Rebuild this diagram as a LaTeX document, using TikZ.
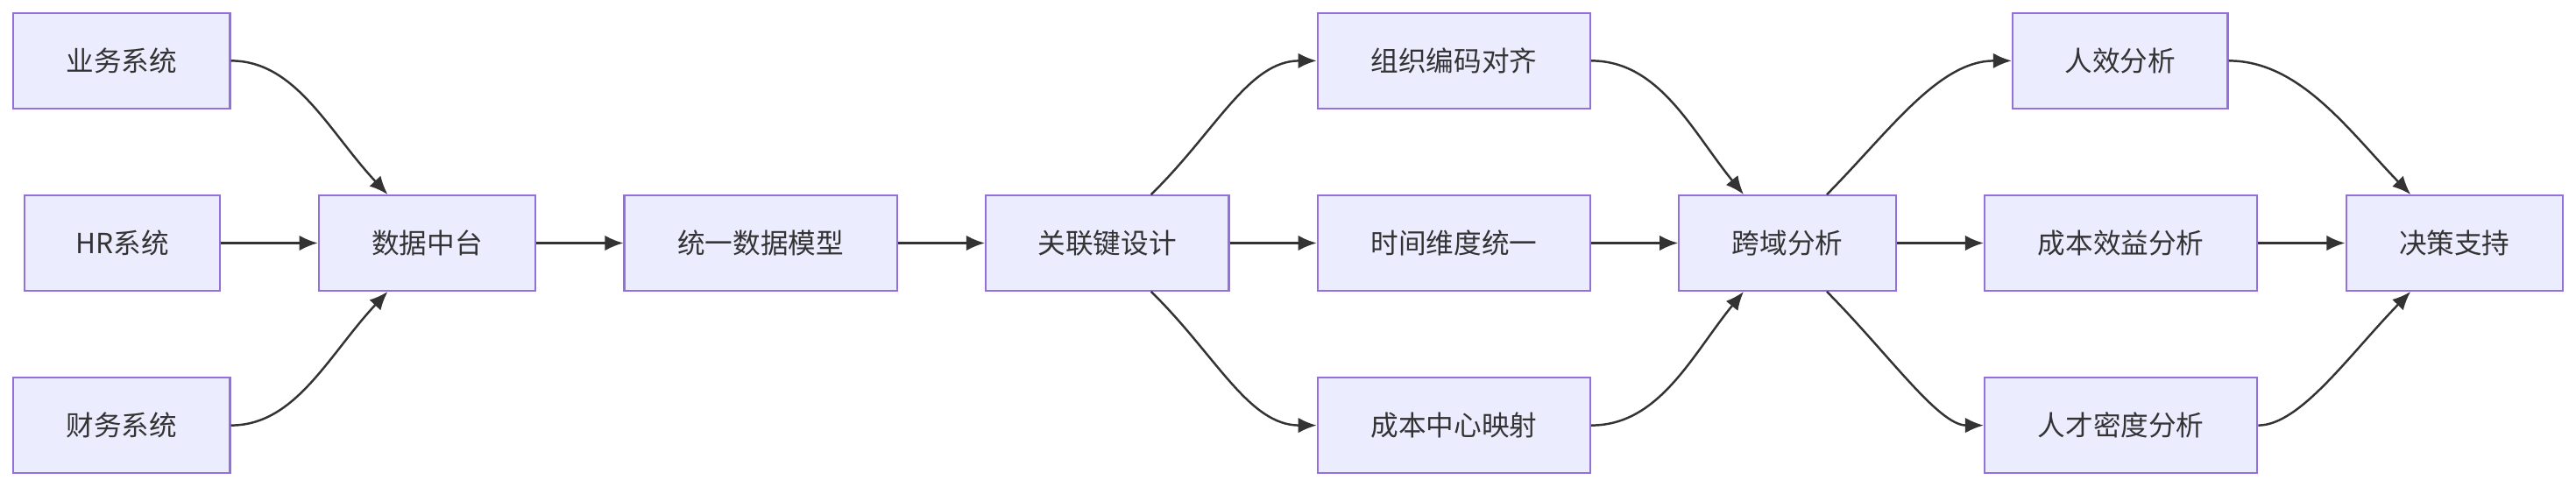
\documentclass[tikz,border=0pt]{standalone}
\usepackage{fontspec}
\setmainfont{Noto Sans CJK SC}
\usetikzlibrary{arrows.meta, positioning}
\definecolor{boxfill}{HTML}{ECECFF}
\definecolor{boxline}{HTML}{9370DB}
\definecolor{ink}{HTML}{333333}

\begin{document}
\begin{tikzpicture}[x=0.01875cm, y=-0.01875cm, font=\fontsize{9}{11}\selectfont,
    box/.style={draw=boxline, fill=boxfill, line width=0.6pt, text=ink, minimum height=1.0875cm, inner sep=0pt},
    wbox/.style={box, minimum width=2.475cm},
    lbox/.style={box, minimum width=3.1125cm},
    link/.style={draw=ink, line width=0.7pt, -{Latex[length=6pt,width=5pt]}}]
    \useasboundingbox (0,0) rectangle (1568,296.5);
    % Nodes
    \node (yw) [wbox] at (74,37) {业务系统};
    \node (hr) [box, minimum width=2.23cm] at (74.5,148) {HR系统};
    \node (cw) [wbox] at (74,259) {财务系统};
    \node (zt) [wbox] at (260,148) {数据中台};
    \node (mx) [lbox] at (463,148) {统一数据模型};
    \node (gl) [box, minimum width=2.775cm] at (674,148) {关联键设计};
    \node (zz) [lbox] at (885,37) {组织编码对齐};
    \node (sj) [lbox] at (885,148) {时间维度统一};
    \node (cb) [lbox] at (885,259) {成本中心映射};
    \node (ky) [wbox] at (1088,148) {跨域分析};
    \node (rx) [wbox, minimum width=2.456cm] at (1290.5,37) {人效分析};
    \node (xy) [lbox] at (1291,148) {成本效益分析};
    \node (rc) [lbox] at (1291,259) {人才密度分析};
    \node (jc) [wbox] at (1494,148) {决策支持};

    % Arrows
    \draw[link] (yw.east) .. controls (180,37) and (200,80) .. ([xshift=-0.45cm]zt.north);
    \draw[link] (hr) -- (zt);
    \draw[link] (cw.east) .. controls (180,259) and (200,216) .. ([xshift=-0.45cm]zt.south);
    \draw[link] (zt) -- (mx);
    \draw[link] (mx) -- (gl);
    \draw[link] ([xshift=0.5cm]gl.north) .. controls (740,80) and (760,37) .. (zz.west);
    \draw[link] (gl) -- (sj);
    \draw[link] ([xshift=0.5cm]gl.south) .. controls (740,216) and (760,259) .. (cb.west);
    \draw[link] (zz.east) .. controls (1010,37) and (1030,80) .. ([xshift=-0.5cm]ky.north);
    \draw[link] (sj) -- (ky);
    \draw[link] (cb.east) .. controls (1010,259) and (1030,216) .. ([xshift=-0.5cm]ky.south);
    \draw[link] ([xshift=0.45cm]ky.north) .. controls (1150,80) and (1180,37) .. (rx.west);
    \draw[link] (ky) -- (xy);
    \draw[link] ([xshift=0.45cm]ky.south) .. controls (1150,216) and (1180,259) .. (rc.west);
    \draw[link] (rx.east) .. controls (1400,37) and (1430,80) .. ([xshift=-0.5cm]jc.north);
    \draw[link] (xy) -- (jc);
    \draw[link] (rc.east) .. controls (1400,259) and (1430,216) .. ([xshift=-0.5cm]jc.south);
\end{tikzpicture}
\end{document}
